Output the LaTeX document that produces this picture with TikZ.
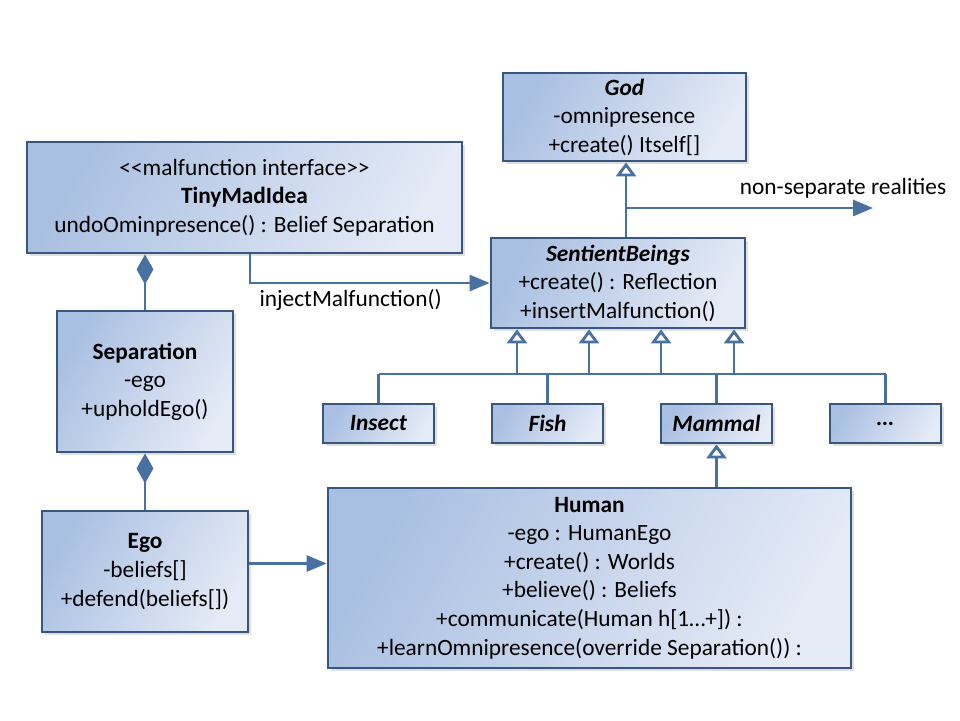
\documentclass[tikz,border=0pt]{standalone}
\usepackage{fontspec}
\setmainfont{Carlito}
\usetikzlibrary{arrows.meta,shadows}
\definecolor{umlline}{RGB}{72,112,160}
\definecolor{umlborder}{RGB}{56,87,128}
\definecolor{umldark}{RGB}{170,192,226}
\definecolor{umllight}{RGB}{228,234,246}
\begin{document}
\begin{tikzpicture}[umlclass/.style={draw=umlborder,line width=2pt,left color=umldark,right color=umllight,shading angle=60,drop shadow={opacity=0.25,shadow xshift=2pt,shadow yshift=-2pt},align=center,inner sep=2pt,font=\fontsize{16.6}{20.3}\selectfont},link/.style={draw=umlline,line width=2pt},assoc/.style={link,-{Triangle[length=0.5cm,width=0.4cm]}},inherit/.style={link,-{Triangle[open,fill=white,length=0.35cm,width=0.5cm]}},compose/.style={link,{Diamond[length=0.75cm,width=0.42cm]}-},lbl/.style={font=\fontsize{16.6}{20.3}\selectfont}]
\useasboundingbox (0,0) rectangle (24,-18);
\node[umlclass,minimum width=6.075cm,minimum height=2.2cm] (god) at (15.61,-2.925) {\textbf{\textit{God}}\\-omnipresence\\+create() Itself[]};
\node[umlclass,minimum width=10.875cm,minimum height=2.775cm] (tmi) at (6.1125,-4.9375) {{<}{<}malfunction interface{>}{>}\\\textbf{TinyMadIdea}\\undoOminpresence() : Belief Separation};
\node[umlclass,minimum width=6.35cm,minimum height=2.25cm] (sb) at (15.45,-7.075) {\textbf{\textit{SentientBeings}}\\+create() : Reflection\\+insertMalfunction()};
\node[umlclass,minimum width=4.4cm,minimum height=3.525cm] (sep) at (3.625,-9.5375) {\textbf{Separation}\\-ego\\+upholdEgo()};
\node[umlclass,minimum width=5.15cm,minimum height=3.025cm] (ego) at (3.625,-14.2875) {\textbf{Ego}\\-beliefs[]\\+defend(beliefs[])};
\node[umlclass,minimum width=2.775cm,minimum height=0.975cm] (insect) at (9.4625,-10.5875) {\textbf{\textit{Insect}}};
\node[umlclass,minimum width=2.775cm,minimum height=0.975cm] (fish) at (13.6875,-10.5875) {\textbf{\textit{Fish}}};
\node[umlclass,minimum width=2.775cm,minimum height=0.975cm] (mammal) at (17.9125,-10.5875) {\textbf{\textit{Mammal}}};
\node[umlclass,minimum width=2.775cm,minimum height=0.975cm] (more) at (22.1375,-10.5875) {\textbf{\textit{…}}};
\node[umlclass,minimum width=13.075cm,minimum height=4.5cm] (human) at (14.7375,-14.45) {\textbf{Human}\\-ego : HumanEgo\\+create() : Worlds\\+believe() : Beliefs\\+communicate(Human h[1…+]) :\\+learnOmnipresence(override Separation()) :};
\coordinate (branch) at (15.65,-5.2);
\coordinate (nsr) at (21.825,-5.2);
\coordinate (busL) at (9.4625,-9.35);
\coordinate (busR) at (22.1375,-9.35);
\node[lbl] (nsrlbl) at (21.075,-4.7) {non-separate realities};
\draw[inherit] (sb.north -| branch) -- (god.south -| branch);
\draw[assoc] (branch) -- (nsr);
\draw[assoc] ([xshift=0.1375cm]tmi.south) |- (sb.west) node[lbl,below,pos=0.71] (inj) {injectMalfunction()};
\draw[compose] (tmi.south -| sep.north) -- (sep.north);
\draw[compose] (sep.south) -- (ego.north);
\draw[assoc] ([yshift=0.2cm]ego.east) -- ([yshift=0.2cm]ego.east -| human.west);
\draw[link] (busL) -- (busR);
\foreach \x in {12.925,14.725,16.525,18.35}
  \draw[inherit] (busL -| \x,0) -- (sb.south -| \x,0);
\draw[link] (insect.north) -- (insect.north |- busL);
\draw[link] (fish.north) -- (fish.north |- busL);
\draw[link] (mammal.north) -- (mammal.north |- busL);
\draw[link] (more.north) -- (more.north |- busL);
\draw[inherit] (human.north -| mammal.south) -- (mammal.south);
\end{tikzpicture}
\end{document}
